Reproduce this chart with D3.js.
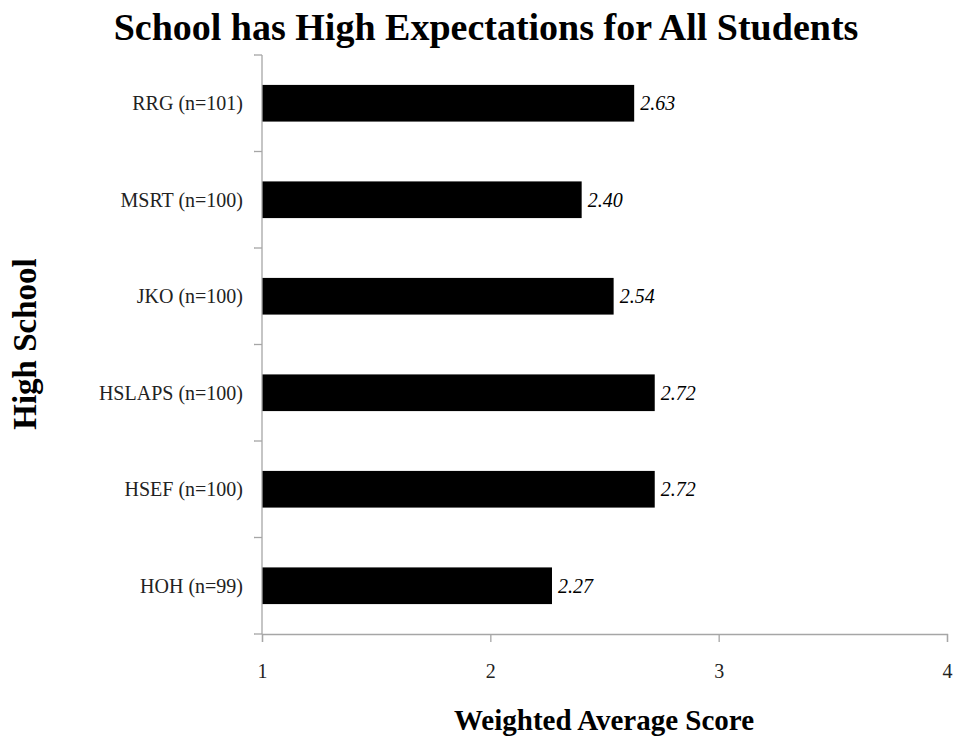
<!DOCTYPE html>
<html>
<head>
<meta charset="utf-8">
<script src="https://cdn.jsdelivr.net/npm/d3@7"></script>
<style>
  body { margin: 0; background: #fff; }
  svg { display: block; font-family: "Liberation Serif", "Times New Roman", serif; }
</style>
</head>
<body>
<svg id="chart"></svg>
<script>
// data, top to bottom as drawn
const schools = ["RRG (n=101)", "MSRT (n=100)", "JKO (n=100)", "HSLAPS (n=100)", "HSEF (n=100)", "HOH (n=99)"];
const scores = [2.63, 2.40, 2.54, 2.72, 2.72, 2.27];
const xTicks = [1, 2, 3, 4];

const width = 956, height = 740;
const margin = {top: 55, right: 9, bottom: 106, left: 262};

const svg = d3.select("#chart")
  .attr("width", width)
  .attr("height", height);

const x = d3.scaleLinear()
  .domain([1, 4])
  .range([margin.left, width - margin.right]);

const y = d3.scaleBand()
  .domain(schools)
  .range([margin.top, height - margin.bottom])
  .paddingInner(0.62)
  .paddingOuter(0.31);

// title
svg.append("text")
  .attr("x", 486)
  .attr("y", 40)
  .attr("text-anchor", "middle")
  .style("font-size", "38px")
  .style("font-weight", "bold")
  .text("School has High Expectations for All Students");

// bars
svg.selectAll("rect.bar")
  .data(scores)
  .enter()
  .append("rect")
  .attr("class", "bar")
  .attr("x", x(1))
  .attr("y", (d, i) => y(schools[i]))
  .attr("width", d => x(d) - x(1))
  .attr("height", y.bandwidth())
  .attr("fill", "#000");

// value labels
svg.selectAll("text.val")
  .data(scores)
  .enter()
  .append("text")
  .attr("class", "val")
  .attr("x", d => x(d) + 6)
  .attr("y", (d, i) => y(schools[i]) + y.bandwidth() / 2)
  .attr("dy", "0.35em")
  .style("font-size", "20px")
  .style("font-style", "italic")
  .text(d => d.toFixed(2));

// y axis: line + ticks at band boundaries
const axisColor = "#a6a6a6";
const bandTop = s => margin.top + schools.indexOf(s) * y.step();

svg.append("line")
  .attr("x1", x(1)).attr("x2", x(1))
  .attr("y1", margin.top).attr("y2", height - margin.bottom)
  .attr("stroke", axisColor).attr("stroke-width", 1.3);

const boundaries = schools.map(bandTop).concat([height - margin.bottom]);
svg.selectAll("line.ytick")
  .data(boundaries)
  .enter()
  .append("line")
  .attr("class", "ytick")
  .attr("x1", x(1) - 8).attr("x2", x(1))
  .attr("y1", d => d).attr("y2", d => d)
  .attr("stroke", axisColor).attr("stroke-width", 1.3);

svg.selectAll("text.ylab")
  .data(schools)
  .enter()
  .append("text")
  .attr("class", "ylab")
  .attr("x", x(1) - 19)
  .attr("y", d => y(d) + y.bandwidth() / 2)
  .attr("dy", "0.35em")
  .attr("text-anchor", "end")
  .style("font-size", "20px")
  .style("fill", "#222")
  .text(d => d);

// x axis
const xAxis = d3.axisBottom(x)
  .tickValues(xTicks)
  .tickSize(8)
  .tickFormat(d3.format("d"));

const gx = svg.append("g")
  .attr("transform", `translate(0,${height - margin.bottom})`)
  .call(xAxis);

gx.select(".domain").attr("stroke", axisColor).attr("stroke-width", 1.3);
gx.selectAll(".tick line").attr("stroke", axisColor).attr("stroke-width", 1.3);
gx.selectAll(".tick text")
  .attr("y", 30)
  .style("font-family", "'Liberation Serif', serif")
  .style("font-size", "20px")
  .style("fill", "#222");

// axis titles
svg.append("text")
  .attr("x", 604)
  .attr("y", 730)
  .attr("text-anchor", "middle")
  .style("font-size", "29px")
  .style("font-weight", "bold")
  .text("Weighted Average Score");

svg.append("text")
  .attr("transform", "translate(36,344) rotate(-90)")
  .attr("text-anchor", "middle")
  .style("font-size", "33px")
  .style("font-weight", "bold")
  .text("High School");
</script>
</body>
</html>
